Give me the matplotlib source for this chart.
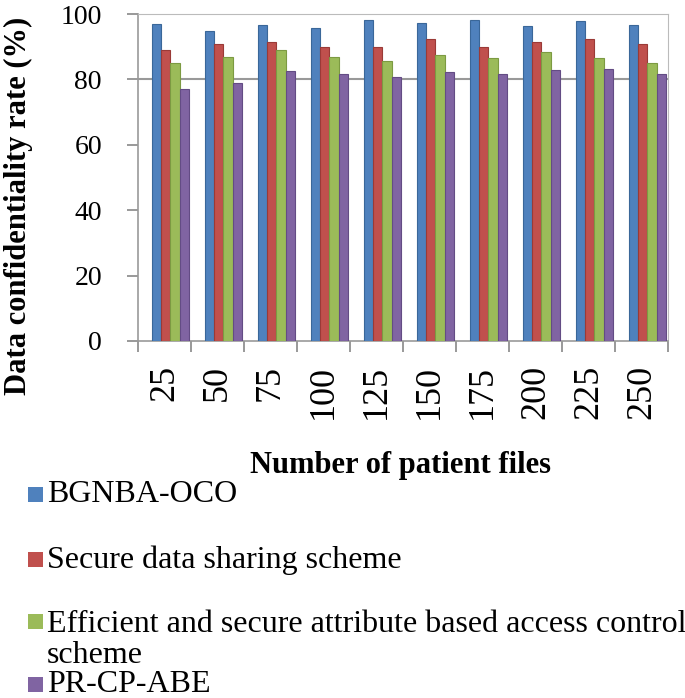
import numpy as np
import matplotlib.pyplot as plt
from matplotlib.patches import Rectangle

plt.rcParams['font.family'] = ['Liberation Serif', 'DejaVu Serif']

# Data
files = ['25', '50', '75', '100', '125', '150', '175', '200', '225', '250']
bgnba = [96.9, 94.8, 96.6, 95.7, 98.2, 97.2, 98.2, 96.3, 97.9, 96.6]
secure_share = [89.0, 90.8, 91.4, 89.9, 89.9, 92.4, 89.9, 91.4, 92.4, 90.8]
abac = [85.0, 86.9, 89.0, 86.9, 85.6, 87.5, 86.5, 88.4, 86.5, 85.0]
prcpabe = [77.1, 78.9, 82.6, 81.7, 80.7, 82.3, 81.7, 82.9, 83.2, 81.7]

series = [bgnba, secure_share, abac, prcpabe]
labels = ['BGNBA-OCO', 'Secure data sharing scheme',
          'Efficient and secure attribute based access control\nscheme',
          'PR-CP-ABE']
colors = ['#4F81BD', '#C0504D', '#9BBB59', '#8064A2']
edges = ['#3A6799', '#9A3A37', '#7C9A42', '#634C84']

W, H = 685, 698
fig = plt.figure(figsize=(W / 100, H / 100), dpi=100)
ax = fig.add_axes([138 / W, 1 - 341 / H, 530 / W, 327 / H])

x = np.arange(len(files))
w = 0.175
for i, (vals, c, e, lab) in enumerate(zip(series, colors, edges, labels)):
    ax.bar(x + 0.11 + (i - 1.5) * w, vals, width=w, color=c, edgecolor=e,
           linewidth=0.8, label=lab, zorder=3)

ax.set_xlim(-0.5, len(files) - 0.5)
ax.set_ylim(0, 100)
ax.set_yticks(range(0, 101, 20))
ax.tick_params(axis='y', labelsize=20, length=8, width=1.2, color='#888888', pad=18)
ax.set_xticks(x)
ax.set_xticklabels(files, rotation=90, fontsize=26)
ax.set_xticks(np.arange(-0.5, len(files)), minor=True)
ax.tick_params(axis='x', which='major', length=0, pad=17)
ax.tick_params(axis='x', which='minor', length=8, width=1.2, color='#888888')
ax.axhline(80, color='#999999', linewidth=1.5, zorder=1)

for s in ['top', 'right']:
    ax.spines[s].set_color('#BBBBBB')
for s in ['left', 'bottom']:
    ax.spines[s].set_color('#999999')
    ax.spines[s].set_linewidth(1.2)

ax.set_ylabel('Data confidentiality rate (%)', fontsize=22, fontweight='bold')
ax.yaxis.label.set_va('center')
ax.yaxis.set_label_coords((18 - 138) / 530, (341 - 206) / 327)
ax.set_xlabel('Number of patient files', fontsize=22, fontweight='bold')
ax.xaxis.label.set_va('center')
ax.xaxis.set_label_coords((400 - 138) / 530, (341 - 465) / 327)

# legend entries below the chart, stacked at the left
rows = [495, 560, 640, 685]
boxes = [495, 560, 622, 685]
for lab, c, yt, yb in zip(labels, colors, rows, boxes):
    fig.patches.append(Rectangle((28 / W, 1 - (yb + 7) / H), 15 / W, 15 / H,
                                 transform=fig.transFigure, facecolor=c,
                                 edgecolor='none'))
    fig.text(47 / W, 1 - yt / H, lab, fontsize=23, va='center', ha='left',
             linespacing=1.05)

fig.savefig('out.png', dpi=100)
